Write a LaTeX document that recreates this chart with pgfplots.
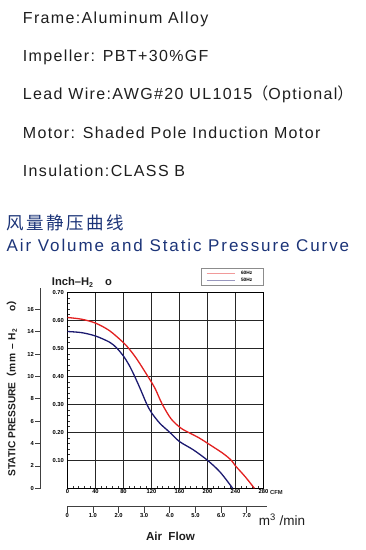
\documentclass[border=0pt]{standalone}
\usepackage{pgfplots}
\pgfplotsset{compat=1.18}
\usepackage{fontspec}
\setmainfont{Liberation Sans}
\newfontfamily\bodyfont[LetterSpace=8.5]{Liberation Sans}
\newfontfamily\titlefont[LetterSpace=11.2]{Liberation Sans}
\newfontfamily\cjk[LetterSpace=15]{Noto Sans CJK SC}
\newfontfamily\cjkplain{Noto Sans CJK SC}
\definecolor{navy}{RGB}{28,52,120}
\definecolor{txt}{RGB}{30,30,30}
\definecolor{cred}{RGB}{226,32,32}
\definecolor{cblue}{RGB}{28,26,112}
\pgfplotsset{every axis/.append style={/pgf/number format/assume math mode=true}}
\begin{document}
\begin{tikzpicture}[x=1pt,y=1pt]
\useasboundingbox (0,0) rectangle (365,-550);
\begin{scope}[every node/.style={anchor=base west, inner sep=0pt, text=txt, font=\bodyfont\fontsize{16}{19}\selectfont}]
\node at (22.7,-23.3) {Frame:Aluminum Alloy};
\node at (22.7,-61.7) {Impeller: PBT+30\%GF};
\node at (22.7,-99.3) {Lead Wire:AWG\#20 UL1015{\cjkplain （}Optional{\cjkplain ）}};
\node at (22.7,-138.3) {Motor: Shaded Pole Induction Motor};
\node at (22.7,-176) {Insulation:CLASS B};
\end{scope}
\node[anchor=base west, inner sep=0pt, text=navy] at (6,-229.5) {\cjk\fontsize{17.5}{20}\selectfont 风量静压曲线};
\node[anchor=base west, inner sep=0pt, text=navy] at (6.5,-251.3) {\titlefont\fontsize{17}{20}\selectfont Air Volume and Static Pressure Curve};
% unit labels
\node[anchor=base west, inner sep=0pt, text=txt] at (51.7,-285) {\bfseries\fontsize{11.2}{13}\selectfont Inch–H\raisebox{-2pt}{\fontsize{7}{8}\selectfont 2}\hspace{12pt}o};
\node[rotate=90, anchor=base west, inner sep=0pt, text=txt] at (15.4,-476.7) {\bfseries\fontsize{10.2}{12}\selectfont STATIC PRESSURE{\cjkplain （}mm\hspace{4pt}–\hspace{4pt}H\raisebox{-1.5pt}{\fontsize{6.5}{7}\selectfont 2}\hspace{18pt}o{\cjkplain ）}};
\node[anchor=base west, inner sep=0pt, text=txt] at (270,-494.5) {\bfseries\fontsize{5.8}{6}\selectfont CFM};
\node[anchor=base west, inner sep=0pt, text=txt] at (258.6,-525.5) {\fontsize{13.5}{15}\selectfont m\textsuperscript{3} /min};
\node[anchor=base, inner sep=0pt, text=txt] at (170.5,-540) {\bfseries\fontsize{11.6}{13}\selectfont Air\hspace{3pt} Flow};

% mm H2O axis
\begin{axis}[at={(40.7pt,-488.3pt)}, anchor=south west, scale only axis,
  width=1pt, height=200pt, xmin=0, xmax=1, ymin=0, ymax=17.87,
  axis y line=left, axis x line=none, axis line style={-, black!75, line width=0.8pt},
  ytick={0,2,4,6,8,10,12,14,16}, tick align=outside, major tick length=5.7pt,
  tick style={black!75, line width=0.6pt},
  yticklabel style={font=\bfseries\fontsize{5.8}{6}\selectfont, text=black, inner sep=1pt}]
\end{axis}

% m3/min axis
\begin{axis}[at={(67.3pt,-506.7pt)}, anchor=south west, scale only axis,
  width=199.4pt, height=1pt, xmin=0, xmax=7.78, ymin=0, ymax=1,
  axis x line=bottom, axis y line=none, axis line style={-, black!75, line width=0.8pt},
  xtick={0,1,2,3,4,5,6,7}, xticklabels={0,1.0,2.0,3.0,4.0,5.0,6.0,7.0},
  tick align=outside, major tick length=6pt, tick style={black!75, line width=0.7pt},
  xticklabel style={font=\bfseries\fontsize{5.8}{6}\selectfont, text=black, inner sep=1pt}]
\end{axis}

% main axis
\begin{axis}[at={(67.5pt,-488.3pt)}, anchor=south west, scale only axis,
  width=196pt, height=196pt, xmin=0, xmax=280, ymin=0, ymax=0.7,
  xtick={0,40,80,120,160,200,240,280},
  ytick={0.1,0.2,0.3,0.4,0.5,0.6,0.7},
  yticklabels={0.10,0.20,0.30,0.40,0.50,0.60,0.70},
  minor x tick num=4, minor y tick num=4,
  tick align=inside, tick pos=left,
  major tick length=0pt, minor tick length=2.5pt,
  grid=major, major grid style={black!85, line width=0.8pt},
  axis line style={black, line width=0.9pt},
  tick style={black!80, line width=0.5pt},
  ticklabel style={font=\bfseries\fontsize{5.8}{6}\selectfont, text=black, inner sep=1pt},
  yticklabel style={xshift=-2.4pt},
  legend style={at={(1,1)}, anchor=south east, yshift=6.5pt, draw=black!45, line width=0.5pt,
    fill=white, inner xsep=5pt, inner ysep=2.5pt, font=\bfseries\fontsize{4.8}{5}\selectfont,
    nodes={text height=3.6pt, text depth=1.2pt, inner ysep=0.8pt, inner xsep=6pt}},
  legend image code/.code={\draw[#1, line width=0.6pt, opacity=0.45] (0pt,0pt) -- (28pt,0pt);},
  legend cell align=left]
\addplot[cred, line width=1.3pt, smooth, tension=0.5] coordinates {
(0,0.610) (20,0.604) (40,0.590) (60,0.563) (80,0.520) (90,0.492) (100,0.458) (114,0.403)
(125,0.357) (135,0.302) (148,0.248) (162,0.215) (175,0.197) (188,0.180) (200,0.161)
(222,0.125) (234,0.100) (240,0.080) (254,0.041) (267,0.0)};
\addlegendentry{60Hz}
\addplot[cblue, line width=1.3pt, smooth, tension=0.5] coordinates {
(0,0.560) (20,0.556) (40,0.544) (60,0.522) (70,0.502) (80,0.472) (88,0.440) (95,0.405)
(104,0.355) (113,0.302) (120,0.270) (132,0.232) (146,0.200) (160,0.167) (180,0.137)
(200,0.100) (218,0.058) (236,0.0)};
\addlegendentry{50Hz}
\end{axis}
\end{tikzpicture}
\end{document}
